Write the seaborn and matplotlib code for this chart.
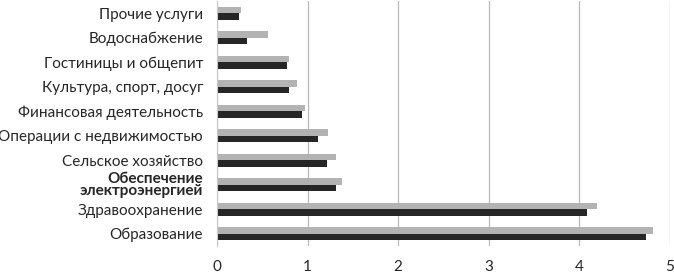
import pandas as pd
import matplotlib
matplotlib.use("Agg")
import matplotlib.pyplot as plt
import seaborn as sns

# Data
categories = ["Прочие услуги", "Водоснабжение", "Гостиницы и общепит",
              "Культура, спорт, досуг", "Финансовая деятельность",
              "Операции с недвижимостью", "Сельское хозяйство",
              "Обеспечение\nэлектроэнергией", "Здравоохранение", "Образование"]
series_a = [0.26, 0.56, 0.79, 0.88, 0.97, 1.22, 1.31, 1.38, 4.19, 4.81]
series_b = [0.24, 0.33, 0.77, 0.80, 0.94, 1.11, 1.21, 1.31, 4.08, 4.74]
series_names = ["A", "B"]
x_ticks = [0, 1, 2, 3, 4, 5]

df = pd.DataFrame({
    "cat": categories * 2,
    "val": series_a + series_b,
    "series": [series_names[0]] * len(categories) + [series_names[1]] * len(categories),
})

sns.set_style("white")
plt.rcParams['font.family'] = ['Lato', 'DejaVu Sans']

fig = plt.figure(figsize=(6.74, 2.74), dpi=100)
ax = fig.add_axes([217 / 674, 1 - 246 / 274, (670 - 217) / 674, 245 / 274])

sns.barplot(data=df, y="cat", x="val", hue="series", order=categories,
            hue_order=series_names, palette=["#b3b3b3", "#262626"],
            width=0.55, gap=0, orient="h", ax=ax, legend=False,
            linewidth=0, edgecolor="none")

ax.set_xlim(0, 5)
ax.set_xticks(x_ticks)
ax.set_xlabel("")
ax.set_ylabel("")
ax.grid(axis="x", color="#b8b8b8", linewidth=0.9)
ax.set_axisbelow(True)
for s in ["top", "right", "bottom"]:
    ax.spines[s].set_visible(False)
ax.spines["left"].set_color("#c8c8c8")
ax.tick_params(axis="x", length=3, color="#b8b8b8", pad=7, labelsize=11)
ax.tick_params(axis="y", length=0, pad=10, labelsize=11)

for lbl in ax.get_yticklabels():
    if lbl.get_text().startswith("Обеспечение"):
        lbl.set_fontweight("bold")
        lbl.set_linespacing(0.8)

fig.savefig("out.png", dpi=100)
